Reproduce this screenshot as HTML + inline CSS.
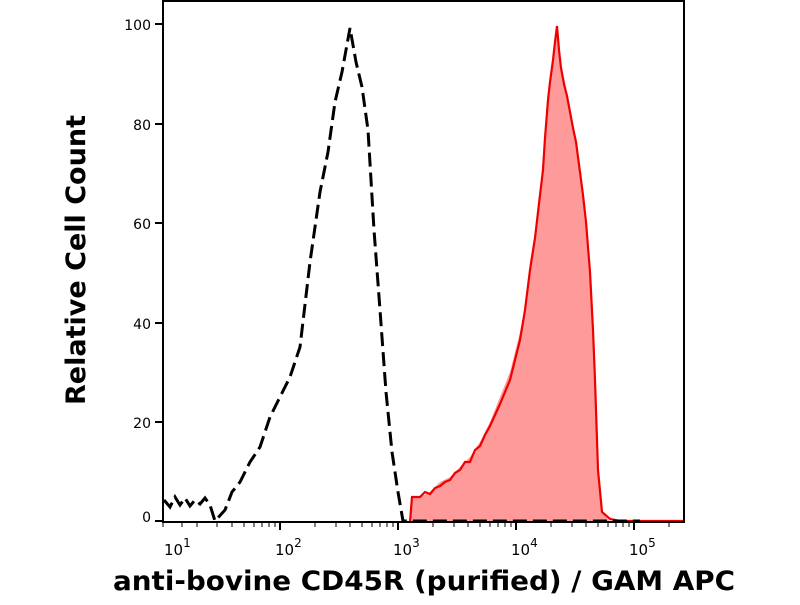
<!DOCTYPE html>
<html><head><style>
body{margin:0;background:#fff;width:800px;height:600px;overflow:hidden}
svg text{font-family:"DejaVu Sans","Liberation Sans",sans-serif}
</style></head><body>
<svg width="800" height="600" viewBox="0 0 800 600" xmlns="http://www.w3.org/2000/svg">
<rect x="0" y="0" width="800" height="600" fill="#fff"/>
<polygon fill="#ff9a9a" points="410,522 412,497 420,497 430,492 440,482 450,477 460,467 470,457 480,442 490,422 500,397 510,372 520,332 525,307 530,262 535,232 540,192 545,132 550,82 555,42 557,26 560,62 565,82 570,112 575,142 580,172 585,222 590,272 595,372 598,472 602,512 610,522"/>
<polyline fill="none" stroke="#e00" stroke-width="2.2" points="410,522 412,497 420,497 425,492 430,494 435,488 440,486 445,482 450,480 455,473 460,470 465,462 470,462 475,450 480,446 485,435 490,426 495,415 500,404 505,392 510,380 515,360 520,340 525,310 530,270 535,238 540,195 543,170 545,138 548,100 550,82 553,60 555,42 557,26 559,50 561,68 564,84 567,96 570,112 573,128 576,142 580,172 583,195 586,222 590,272 593,330 595,380 598,470 602,512 610,519 620,521 685,521"/>
<polyline fill="none" stroke="#000" stroke-width="3" stroke-dasharray="14,6" points="164,500 170,507 175,497 180,505 185,498 190,506 195,500 200,504 205,498 210,505 215,521 225,510 232,492 240,482 250,462 260,447 270,417 280,397 290,377 300,347 310,262 320,192 328,152 335,102 342,72 350,28 356,62 362,87 368,130 374,230 380,310 386,392 392,452 398,492 403,521 640,521"/>
<line x1="163" y1="1" x2="685" y2="1" stroke="#000" stroke-width="2"/>
<line x1="684" y1="0" x2="684" y2="522" stroke="#000" stroke-width="2"/>
<line x1="163" y1="0" x2="163" y2="523" stroke="#000" stroke-width="2"/>
<line x1="162" y1="522" x2="685" y2="522" stroke="#000" stroke-width="2"/>
<g stroke="#000" stroke-width="2">
<line x1="155" y1="24" x2="163" y2="24"/><line x1="155" y1="124" x2="163" y2="124"/><line x1="155" y1="223" x2="163" y2="223"/><line x1="155" y1="323" x2="163" y2="323"/><line x1="155" y1="422" x2="163" y2="422"/><line x1="155" y1="521" x2="163" y2="521"/>
<line x1="280" y1="522" x2="280" y2="530"/><line x1="398" y1="522" x2="398" y2="530"/><line x1="516" y1="522" x2="516" y2="530"/><line x1="634" y1="522" x2="634" y2="530"/>
</g>
<g stroke="#000" stroke-width="1">
<line x1="163" y1="522" x2="163" y2="527"/><line x1="182" y1="522" x2="182" y2="527"/><line x1="197" y1="522" x2="197" y2="527"/><line x1="217" y1="522" x2="217" y2="527"/><line x1="232" y1="522" x2="232" y2="527"/><line x1="244" y1="522" x2="244" y2="527"/><line x1="254" y1="522" x2="254" y2="527"/><line x1="262" y1="522" x2="262" y2="527"/><line x1="269" y1="522" x2="269" y2="527"/><line x1="275" y1="522" x2="275" y2="527"/>
<line x1="315" y1="522" x2="315" y2="527"/><line x1="336" y1="522" x2="336" y2="527"/><line x1="350" y1="522" x2="350" y2="527"/><line x1="362" y1="522" x2="362" y2="527"/><line x1="372" y1="522" x2="372" y2="527"/><line x1="380" y1="522" x2="380" y2="527"/><line x1="387" y1="522" x2="387" y2="527"/><line x1="393" y1="522" x2="393" y2="527"/>
<line x1="433" y1="522" x2="433" y2="527"/><line x1="454" y1="522" x2="454" y2="527"/><line x1="468" y1="522" x2="468" y2="527"/><line x1="480" y1="522" x2="480" y2="527"/><line x1="490" y1="522" x2="490" y2="527"/><line x1="498" y1="522" x2="498" y2="527"/><line x1="505" y1="522" x2="505" y2="527"/><line x1="511" y1="522" x2="511" y2="527"/>
<line x1="551" y1="522" x2="551" y2="527"/><line x1="572" y1="522" x2="572" y2="527"/><line x1="586" y1="522" x2="586" y2="527"/><line x1="598" y1="522" x2="598" y2="527"/><line x1="608" y1="522" x2="608" y2="527"/><line x1="616" y1="522" x2="616" y2="527"/><line x1="623" y1="522" x2="623" y2="527"/><line x1="629" y1="522" x2="629" y2="527"/>
<line x1="669" y1="522" x2="669" y2="527"/>
</g>
<g font-size="14" fill="#000" text-anchor="end">
<text x="151" y="30">100</text><text x="151" y="130">80</text><text x="151" y="229">60</text><text x="151" y="329">40</text><text x="151" y="428">20</text><text x="151" y="522">0</text>
</g>
<g font-size="15" fill="#000">
<text x="164" y="555">10<tspan dy="-8" font-size="12">1</tspan></text>
<text x="275" y="555">10<tspan dy="-8" font-size="12">2</tspan></text>
<text x="393" y="555">10<tspan dy="-8" font-size="12">3</tspan></text>
<text x="511" y="555">10<tspan dy="-8" font-size="12">4</tspan></text>
<text x="629" y="555">10<tspan dy="-8" font-size="12">5</tspan></text>
</g>
<text x="424" y="590" font-size="27" font-weight="bold" text-anchor="middle" fill="#000" textLength="622" lengthAdjust="spacingAndGlyphs">anti-bovine CD45R (purified) / GAM APC</text>
<text transform="translate(85,260) rotate(-90)" font-size="27" font-weight="bold" text-anchor="middle" fill="#000" textLength="290" lengthAdjust="spacingAndGlyphs">Relative Cell Count</text>
</svg>
</body></html>
